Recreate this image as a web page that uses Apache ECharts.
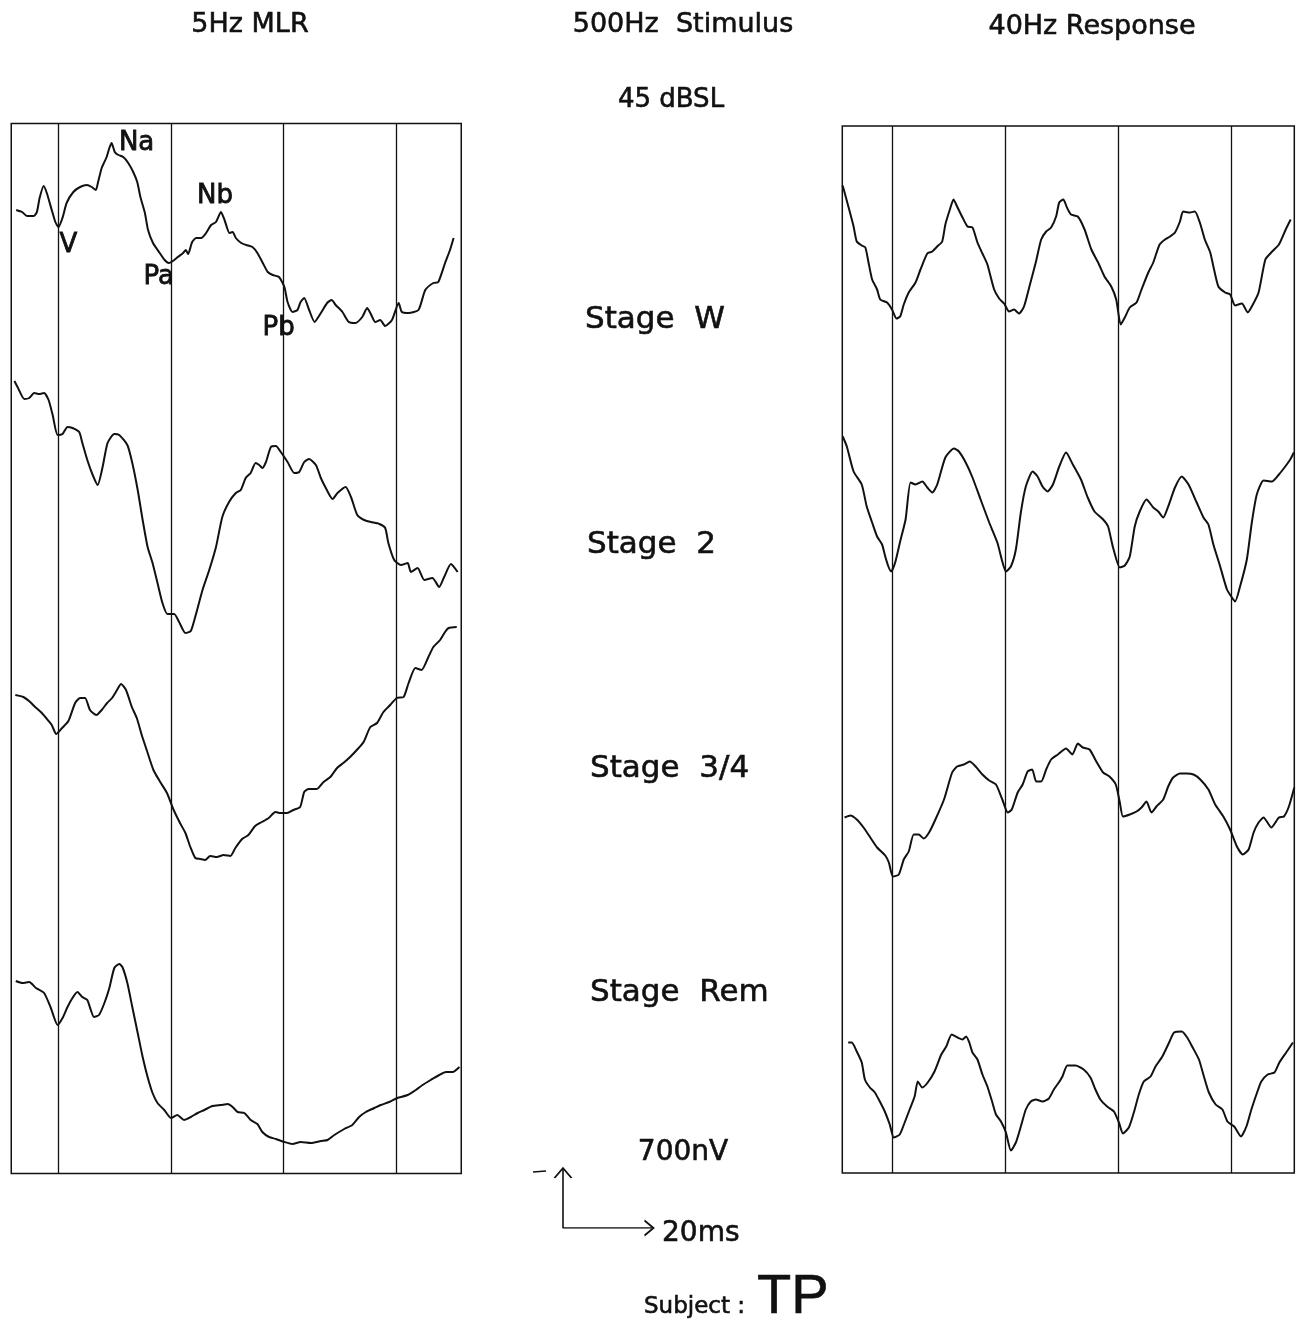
<!DOCTYPE html>
<html>
<head>
<meta charset="utf-8">
<title>5Hz MLR / 40Hz Response by sleep stage</title>
<script src="https://cdn.jsdelivr.net/npm/echarts@6/dist/echarts.min.js"></script>
<style>
  html, body { margin: 0; padding: 0; background: #ffffff; }
  #chart { width: 1309px; height: 1326px; }
</style>
</head>
<body>
<div id="chart"></div>
<script>
// Time in ms (stimulus onset = 0), amplitude in plotter units (60 units = 700 nV).
const GUIDE_MS = [0, 25, 50, 75];
const STAGES = ['Stage  W', 'Stage  2', 'Stage  3/4', 'Stage  Rem'];
const CAL_NV = 700;
const CAL_MS = 20;
const CAL_UNITS = 60;

// 5 Hz middle-latency response, one trace per stage
const mlrWake = [[-9.4,40],[-8.1,38],[-7.0,34],[-5.5,34],[-4.8,38],[-4.2,52],[-3.3,64],[-2.6,57],[-1.5,40],[-0.7,28],[0,23],[0.95,33],[1.8,47],[3.3,58],[4.8,63],[6.3,65],[7.4,63],[8.3,60],[8.8,68],[9.6,82],[10.7,93],[11.3,102],[11.8,107],[12.5,98],[13.3,95],[14.4,93],[15.5,87],[16.6,78],[17.5,68],[18.2,53],[19.2,37],[19.9,20],[21.0,7],[22.5,-3],[23.6,-10],[24.5,-13],[25.4,-11],[26.5,-7],[27.7,-3],[28.3,0],[28.8,-4],[29.7,8],[30.6,12],[31.7,12],[32.8,17],[33.9,25],[35.0,28],[36.1,38],[36.9,30],[38.0,17],[38.7,18],[39.4,12],[40.6,7],[41.7,5],[43.1,3],[44.2,-3],[45.4,-13],[46.5,-22],[47.6,-25],[49.0,-27],[50.2,-37],[50.9,-52],[52.0,-62],[53.1,-60],[53.8,-52],[54.6,-48],[55.7,-60],[56.9,-72],[58.3,-63],[59.7,-53],[60.7,-50],[61.6,-55],[63.1,-62],[64.5,-72],[66.0,-73],[67.5,-67],[68.6,-58],[69.3,-63],[70.4,-72],[71.5,-70],[72.6,-76],[74.1,-70],[75.6,-53],[76.3,-62],[77.8,-63],[80.0,-60],[81.5,-40],[83.3,-33],[84.4,-32],[85.9,-13],[87.0,0],[87.8,12]];
const mlrStage2 = [[-9.8,99],[-9.1,93],[-7.6,81],[-6.5,82],[-5.4,87],[-4.3,86],[-3.2,87],[-2.2,80],[-1.3,65],[-0.2,45],[0.9,46],[2.0,53],[3.1,52],[4.6,48],[5.3,37],[6.4,20],[7.6,5],[8.7,-5],[9.8,13],[10.9,37],[12.4,46],[13.5,45],[15.3,35],[16.4,17],[17.6,-10],[18.7,-40],[19.8,-67],[20.9,-83],[22.0,-103],[23.1,-123],[24.2,-134],[25.7,-134],[26.8,-142],[28.2,-153],[29.4,-151],[30.5,-135],[32.0,-110],[33.5,-90],[35.0,-67],[36.4,-37],[37.9,-22],[39.4,-13],[40.5,-10],[41.6,2],[42.7,7],[43.8,17],[44.6,15],[45.3,12],[46.1,18],[47.2,33],[48.3,34],[49.4,28],[50.9,18],[52.4,7],[53.5,8],[54.6,18],[55.7,21],[57.2,15],[58.3,2],[59.4,-8],[60.9,-19],[62.0,-13],[63.8,-7],[65.0,-17],[66.4,-35],[67.9,-40],[69.4,-42],[71.3,-44],[72.6,-48],[73.3,-63],[74.6,-80],[76.1,-85],[77.6,-83],[78.3,-92],[79.8,-88],[81.3,-100],[83.1,-98],[84.6,-107],[85.7,-97],[87.2,-84],[88.7,-92]];
const mlrStage34 = [[-9.6,65],[-7.8,63],[-6.3,58],[-5.2,53],[-3.7,47],[-2.2,39],[-1.5,35],[-0.5,26],[0.8,32],[2.2,39],[3.7,57],[4.8,62],[5.9,62],[7.0,50],[8.4,45],[9.6,50],[10.8,57],[11.9,62],[13.0,70],[13.9,76],[15.0,70],[16.3,53],[17.4,42],[18.5,25],[19.6,10],[21.1,-10],[22.6,-22],[24.1,-33],[25.6,-50],[27.0,-63],[28.2,-73],[29.3,-87],[30.4,-98],[31.5,-99],[32.6,-100],[33.7,-96],[35.2,-97],[36.7,-95],[38.2,-96],[39.3,-88],[40.8,-79],[42.2,-75],[43.7,-66],[45.2,-62],[46.7,-58],[48.2,-52],[49.3,-53],[50.8,-53],[52.2,-50],[53.7,-47],[54.6,-32],[55.6,-29],[57.4,-29],[58.9,-22],[60.4,-17],[61.9,-8],[63.3,-3],[64.8,3],[66.7,12],[67.8,18],[69.3,33],[70.8,37],[72.2,48],[73.7,55],[75.2,62],[76.7,63],[77.8,77],[79.3,92],[80.7,90],[82.2,103],[83.3,113],[84.8,120],[85.9,128],[86.7,132],[88.5,133]];
const mlrRem = [[-9.5,59],[-8.0,57],[-6.5,58],[-5.0,52],[-3.2,47],[-1.7,32],[-0.2,15],[0.9,22],[2.0,33],[3.1,42],[4.2,48],[5.3,43],[6.4,40],[7.9,23],[9.0,25],[10.2,37],[11.3,52],[12.4,72],[13.5,76],[14.2,73],[15.3,57],[16.4,33],[17.6,7],[18.7,-17],[19.8,-37],[20.9,-53],[22.0,-63],[23.5,-70],[25.0,-78],[26.4,-75],[27.9,-80],[29.4,-77],[30.9,-73],[32.4,-70],[34.2,-66],[36.1,-65],[37.6,-64],[38.7,-67],[39.8,-72],[41.3,-73],[42.7,-80],[44.2,-84],[45.3,-92],[46.8,-97],[48.3,-99],[50.2,-102],[52.0,-104],[53.8,-102],[56.1,-103],[58.3,-101],[59.8,-100],[61.3,-95],[63.5,-89],[65.3,-85],[66.8,-77],[68.3,-72],[70.2,-68],[71.6,-65],[73.5,-62],[75.3,-58],[77.6,-55],[79.4,-50],[80.9,-45],[82.7,-40],[84.6,-35],[86.1,-32],[87.6,-32],[89.1,-27]];

// 40 Hz steady-state response, one trace per stage
const assrWake = [[-11,74],[-10.8,72],[-9.6,52],[-8.5,33],[-7.8,18],[-6.7,14],[-5.9,12],[-5.2,-3],[-4.4,-20],[-3.3,-30],[-2.6,-40],[-1.1,-43],[0,-50],[1.0,-59],[1.8,-57],[2.6,-45],[3.7,-33],[5.2,-23],[6.3,-10],[7.8,6],[8.9,8],[10.0,13],[11.1,18],[11.8,35],[12.8,50],[13.6,60],[14.4,53],[15.6,42],[16.7,33],[17.8,32],[18.9,17],[20.0,6],[21.1,-5],[22.6,-30],[23.7,-39],[24.8,-44],[25.9,-52],[27.0,-50],[28.1,-54],[29.2,-47],[30.4,-27],[31.8,-3],[33.0,20],[34.1,28],[35.2,32],[36.3,43],[37.0,57],[37.9,60],[38.7,52],[39.6,45],[41.1,43],[42.6,30],[44.1,10],[45.6,-3],[47.0,-17],[48.5,-27],[49.6,-40],[50.6,-65],[51.5,-58],[52.6,-48],[54.1,-43],[55.2,-30],[56.7,-13],[57.8,-3],[59.2,15],[60.4,20],[61.5,23],[62.6,27],[63.7,38],[64.4,48],[65.9,47],[67.0,48],[68.1,37],[69.2,20],[70.4,7],[71.1,-7],[72.2,-27],[73.7,-33],[74.8,-35],[75.9,-46],[77.4,-44],[78.7,-53],[79.6,-47],[81.1,-33],[82.6,0],[84.1,8],[85.6,15],[87.1,30],[88.2,40]];
const assrStage2 = [[-10.9,83],[-10.0,73],[-8.5,48],[-6.7,35],[-5.6,13],[-4.4,-3],[-3.3,-17],[-2.2,-25],[-1.5,-37],[-0.8,-47],[-0.2,-52],[0.7,-43],[1.8,-22],[3.0,0],[4.1,37],[5.2,35],[6.7,38],[7.8,32],[8.9,27],[10.0,35],[11.8,62],[13.7,71],[14.8,68],[16.3,57],[17.8,42],[19.6,20],[21.5,-3],[23.3,-23],[24.4,-42],[25.2,-52],[26.3,-47],[27.4,-30],[28.5,7],[29.6,33],[31.1,48],[32.2,43],[33.3,33],[34.4,28],[35.6,35],[37.0,53],[38.5,67],[40.0,55],[41.8,40],[43.3,22],[44.8,8],[46.7,0],[47.8,-7],[48.9,-28],[50.4,-48],[51.5,-46],[52.6,-37],[53.7,-7],[54.8,8],[56.3,20],[57.8,12],[58.9,8],[60.0,2],[61.1,13],[62.6,32],[64.1,43],[65.6,35],[67.4,17],[68.9,2],[70.0,-5],[71.1,-25],[72.6,-47],[74.1,-70],[75.2,-78],[75.9,-82],[77.0,-67],[78.5,-40],[79.6,-3],[80.7,25],[82.2,39],[84.1,38],[85.6,45],[87.0,53],[88.1,60],[88.9,67]];
const assrStage34 = [[-10.5,-8],[-9.2,-6],[-7.8,-10],[-6.3,-18],[-4.8,-28],[-3.3,-38],[-1.5,-46],[-0.7,-53],[0.2,-67],[1.5,-65],[2.6,-50],[3.7,-42],[4.8,-25],[5.9,-25],[7.0,-29],[8.2,-23],[9.6,-10],[11.5,10],[13.3,37],[14.4,43],[15.9,45],[17.2,48],[18.5,43],[20.0,35],[21.5,29],[23.0,25],[24.4,10],[25.6,-3],[26.5,0],[27.8,17],[28.9,25],[30.0,38],[31.0,40],[31.9,28],[33.0,28],[34.1,40],[35.2,50],[36.7,55],[38.5,61],[39.9,55],[41.1,66],[42.2,62],[43.7,60],[45.2,48],[46.7,37],[48.1,33],[49.5,25],[50.4,7],[51.1,-7],[52.6,-5],[54.1,-2],[55.2,2],[56.3,8],[57.4,-3],[58.5,3],[60.0,10],[61.1,23],[62.2,32],[63.7,36],[65.2,36],[66.7,35],[68.2,30],[70.0,20],[71.5,5],[73.3,-7],[74.8,-20],[76.3,-37],[77.6,-45],[78.9,-40],[80.0,-23],[81.1,-13],[82.2,-8],[83.9,-18],[85.6,-8],[86.7,-7],[87.8,3],[89.0,22]];
const assrRem = [[-9.7,47],[-8.9,47],[-7.8,38],[-6.7,27],[-6.0,10],[-4.9,2],[-3.8,-3],[-2.7,-12],[-1.6,-22],[-0.5,-35],[0.4,-48],[1.7,-45],[2.8,-33],[3.9,-20],[5.0,-7],[5.7,8],[6.7,2],[7.9,7],[9.4,18],[10.9,35],[12.0,43],[13.2,55],[14.5,52],[15.6,50],[16.4,53],[17.1,47],[17.8,37],[18.9,30],[20.0,15],[21.1,3],[22.2,-13],[23.0,-25],[24.1,-32],[25.2,-43],[26.3,-61],[27.4,-53],[28.5,-37],[29.6,-20],[30.7,-12],[31.8,-10],[33.3,-12],[34.7,-9],[35.8,0],[36.9,7],[37.7,13],[38.8,24],[40.6,24],[42.4,20],[43.9,12],[45.0,0],[46.1,-10],[47.6,-17],[49.1,-22],[50.2,-33],[51.1,-44],[52.4,-38],[53.5,-23],[54.6,-5],[55.7,8],[57.2,13],[58.3,23],[59.8,33],[61.3,47],[62.4,57],[64.1,58],[65.3,52],[66.4,43],[67.9,30],[69.0,13],[70.1,-3],[71.6,-15],[73.1,-20],[74.2,-32],[75.7,-37],[77.2,-47],[78.4,-37],[79.5,-20],[81.0,0],[81.7,8],[83.1,15],[84.6,17],[85.7,27],[87.2,37],[88.7,47]];

// Component names on the awake MLR trace: [name, latency ms, amplitude]
const mlrPeaks = [['V', 0, 23], ['Na', 11.8, 107], ['Pa', 24.5, -13], ['Nb', 36.1, 38], ['Pb', 50.9, -52]];

// ---- layout ----
const INK = '#111111';
const MLR_OFFSETS = [923.5, 693.5, 413.5, 133.5];   // vertical slot of each trace
const ASSR_OFFSETS = [913.5, 653.5, 363.5, 83.5];
const PEAK_LABEL_SHIFT = { V: [10, 18], Na: [25, 0], Pa: [-10, 14], Nb: [-6, -16], Pb: [-9, 26] };

const chart = echarts.init(document.getElementById('chart'), null, { renderer: 'canvas', width: 1309, height: 1326 });

function trace(data, offset, gi, extra) {
  return Object.assign({
    type: 'line',
    xAxisIndex: gi,
    yAxisIndex: gi,
    data: data.map(([t, a]) => [t, a + offset]),
    showSymbol: false,
    smooth: 0.2,
    lineStyle: { color: INK, width: 2 },
    silent: true,
    animation: false,
    z: 3
  }, extra || {});
}

const guideLines = {
  silent: true,
  symbol: 'none',
  animation: false,
  label: { show: false },
  lineStyle: { color: INK, width: 1.3, type: 'solid' },
  data: GUIDE_MS.map(t => ({ xAxis: t }))
};

const mlrSets = [mlrWake, mlrStage2, mlrStage34, mlrRem];
const assrSets = [assrWake, assrStage2, assrStage34, assrRem];

const series = [];
mlrSets.forEach((d, i) => {
  const extra = {};
  if (i === 0) {
    extra.markLine = guideLines;
    extra.markPoint = {
      symbol: 'circle',
      symbolSize: 0,
      silent: true,
      animation: false,
      label: {
        show: true, color: INK, fontFamily: 'DejaVu Sans', fontSize: 26,
        textBorderColor: INK, textBorderWidth: 0.8,
        formatter: p => p.name
      },
      data: mlrPeaks.map(([name, t, a]) => ({
        name, coord: [t, a + MLR_OFFSETS[0]],
        label: { offset: PEAK_LABEL_SHIFT[name] }
      }))
    };
  }
  series.push(trace(d, MLR_OFFSETS[i], 0, extra));
});
assrSets.forEach((d, i) => {
  series.push(trace(d, ASSR_OFFSETS[i], 1, i === 0 ? { markLine: guideLines } : {}));
});

// calibration: CAL_NV vertically, CAL_MS horizontally
series.push({
  type: 'line',
  xAxisIndex: 2,
  yAxisIndex: 2,
  data: [[0, CAL_UNITS], [0, 0], [CAL_MS, 0]],
  showSymbol: false,
  lineStyle: { color: INK, width: 1.6 },
  silent: true,
  animation: false,
  markPoint: {
    silent: true,
    animation: false,
    itemStyle: { color: 'rgba(0,0,0,0)', borderColor: INK, borderWidth: 1.6 },
    label: { show: false },
    data: [
      { coord: [0, CAL_UNITS], symbol: 'path://M0,10 L5,0 L10,10', symbolSize: [17, 10], symbolOffset: [0, 5], symbolKeepAspect: false },
      { coord: [CAL_MS, 0], symbol: 'path://M0,0 L10,8 L0,16', symbolSize: [9, 15], symbolOffset: [-4, 0], symbolKeepAspect: false }
    ]
  }
});

// printed lettering is slightly heavier than the plain face
const textStyle = (size, extra) => Object.assign({
  fill: INK, stroke: INK, lineWidth: 0.6, fontFamily: 'DejaVu Sans', fontSize: size
}, extra || {});
const stageY = [320, 545, 769, 993];
const stageX = [585, 587, 590, 590];

const graphic = [
  { type: 'text', x: 250, y: 25, style: textStyle(27, { text: '5Hz MLR', align: 'center', verticalAlign: 'middle' }) },
  { type: 'text', x: 683, y: 25, style: textStyle(27, { text: '500Hz  Stimulus', align: 'center', verticalAlign: 'middle' }) },
  { type: 'text', x: 1092, y: 27, style: textStyle(27, { text: '40Hz Response', align: 'center', verticalAlign: 'middle' }) },
  { type: 'text', x: 671, y: 100, style: textStyle(26, { text: '45 dBSL', align: 'center', verticalAlign: 'middle' }) },
  { type: 'text', x: 683, y: 1153, style: textStyle(28, { text: CAL_NV + 'nV', align: 'center', verticalAlign: 'middle' }) },
  { type: 'text', x: 662, y: 1234, style: textStyle(28, { text: CAL_MS + 'ms', align: 'left', verticalAlign: 'middle' }) },
  { type: 'text', x: 745, y: 1307, style: textStyle(23, { text: 'Subject :', align: 'right', verticalAlign: 'middle' }) },
  { type: 'text', x: 757, y: 1298, style: { text: 'TP', fill: INK, stroke: INK, lineWidth: 0.6, fontFamily: 'Liberation Sans', fontSize: 56, align: 'left', verticalAlign: 'middle' } },
  { type: 'line', shape: { x1: 533, y1: 1172, x2: 546, y2: 1171 }, style: { stroke: INK, lineWidth: 1.6 } }
];
STAGES.forEach((s, i) => {
  graphic.push({ type: 'text', x: stageX[i], y: stageY[i], style: textStyle(31, { text: s, align: 'left', verticalAlign: 'middle' }) });
});

const gridBox = { show: true, borderColor: INK, borderWidth: 1.5, backgroundColor: 'transparent' };

chart.setOption({
  backgroundColor: '#ffffff',
  animation: false,
  grid: [
    Object.assign({ left: 11.25, top: 123.5, width: 450, height: 1050 }, gridBox),
    Object.assign({ left: 842.3, top: 126, width: 452, height: 1047 }, gridBox),
    { left: 563, top: 1168, width: 90, height: 60, show: false }
  ],
  xAxis: [
    { gridIndex: 0, type: 'value', min: -10.5, max: 89.5, show: false },
    { gridIndex: 1, type: 'value', min: -11, max: 89, show: false },
    { gridIndex: 2, type: 'value', min: 0, max: CAL_MS, show: false }
  ],
  yAxis: [
    { gridIndex: 0, type: 'value', min: 0, max: 1050, show: false },
    { gridIndex: 1, type: 'value', min: 0, max: 1047, show: false },
    { gridIndex: 2, type: 'value', min: 0, max: CAL_UNITS, show: false }
  ],
  graphic: graphic,
  series: series
});
</script>
</body>
</html>
